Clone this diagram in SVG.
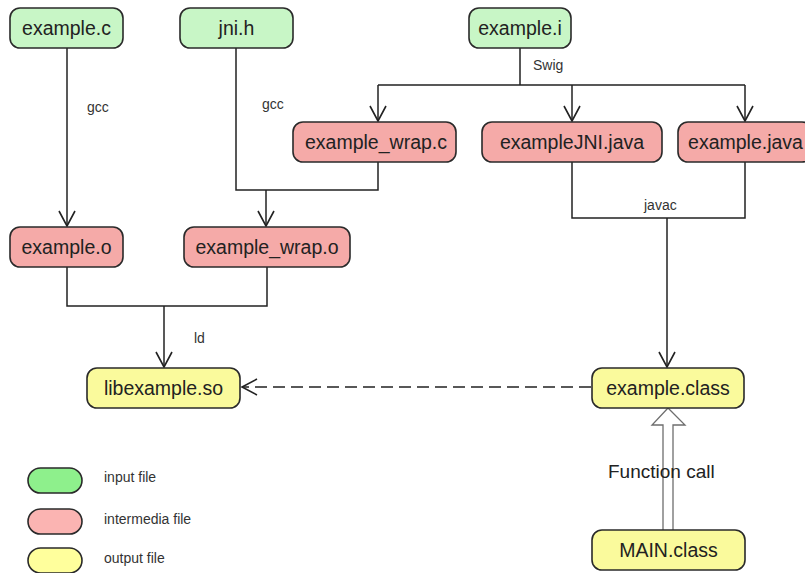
<svg xmlns="http://www.w3.org/2000/svg" width="805" height="573" viewBox="0 0 805 573">
  <style>
    .node rect { stroke: #2a2a2a; stroke-width: 1.6; }
    .input rect { fill: #c8f6c6; }
    .inter rect { fill: #f5aaa8; }
    .output rect { fill: #fafa9c; }
    .node text { font-family: "Liberation Sans", Arial, sans-serif; font-size: 19.5px; fill: #222; text-anchor: middle; }
    .edge { fill: none; stroke: #222; stroke-width: 1.5; }
    .lbl { font-family: "Liberation Sans", Arial, sans-serif; font-size: 14px; fill: #333; }
    .legend text { font-family: "Liberation Sans", Arial, sans-serif; font-size: 14px; fill: #333; }
  </style>
  <defs>
    <marker id="open" markerUnits="userSpaceOnUse" viewBox="-17 -10 19 20" markerWidth="19" markerHeight="20" refX="0" refY="0" orient="auto">
      <path d="M-15,-8 L0,0 L-15,8" fill="none" stroke="#222" stroke-width="1.6"/>
    </marker>
  </defs>
  <rect width="805" height="573" fill="#ffffff"/>

  <!-- connectors -->
  <g id="connectors">
    <!-- gcc: example.c -> example.o -->
    <path class="edge" d="M67 48 V226" marker-end="url(#open)"/>
    <!-- gcc: jni.h + example_wrap.c -> example_wrap.o -->
    <path class="edge" d="M236 48 V190 H378 V162"/>
    <path class="edge" d="M266 190 V226" marker-end="url(#open)"/>
    <!-- swig: example.i -> generated files -->
    <path class="edge" d="M520 48 V85 M378 85 H745"/>
    <path class="edge" d="M378 85 V121" marker-end="url(#open)"/>
    <path class="edge" d="M572 85 V121" marker-end="url(#open)"/>
    <path class="edge" d="M745 85 V121" marker-end="url(#open)"/>
    <!-- javac -->
    <path class="edge" d="M572 162 V218 H745 V162"/>
    <path class="edge" d="M667 218 V367" marker-end="url(#open)"/>
    <!-- ld -->
    <path class="edge" d="M67 267 V306 H267 V267"/>
    <path class="edge" d="M164 306 V367" marker-end="url(#open)"/>
    <!-- load dependency -->
    <path class="edge" d="M591 387 H242" stroke-dasharray="12 6" marker-end="url(#open)"/>
    <!-- function call (hollow arrow) -->
    <path d="M663 530 V425 H652 L668 408 L685 425 H673 V530" fill="#ffffff" stroke="#6e6e6e" stroke-width="1.3"/>
    <text class="lbl" x="87" y="112">gcc</text>
    <text class="lbl" x="262" y="109">gcc</text>
    <text class="lbl" x="533" y="70">Swig</text>
    <text class="lbl" x="644" y="210">javac</text>
    <text class="lbl" x="194" y="343">ld</text>
    <text x="608" y="478" font-family="Liberation Sans, Arial, sans-serif" font-size="19px" fill="#222">Function call</text>
  </g>

  <!-- input files -->
  <g id="example_c" class="node input">
    <rect x="10" y="8" width="113" height="40" rx="10"/>
    <text x="66.5" y="35">example.c</text>
  </g>
  <g id="jni_h" class="node input">
    <rect x="180" y="8" width="113" height="40" rx="10"/>
    <text x="236.5" y="35">jni.h</text>
  </g>
  <g id="example_i" class="node input">
    <rect x="469" y="8" width="102" height="40" rx="10"/>
    <text x="520" y="35">example.i</text>
  </g>

  <!-- intermediate files -->
  <g id="example_wrap_c" class="node inter">
    <rect x="293" y="122" width="163" height="40" rx="10"/>
    <text x="376" y="149">example_wrap.c</text>
  </g>
  <g id="exampleJNI_java" class="node inter">
    <rect x="482" y="122" width="180" height="40" rx="10"/>
    <text x="572" y="149">exampleJNI.java</text>
  </g>
  <g id="example_java" class="node inter">
    <rect x="678" y="122" width="134" height="40" rx="10"/>
    <text x="745.5" y="149">example.java</text>
  </g>
  <g id="example_o" class="node inter">
    <rect x="10" y="227" width="113" height="40" rx="10"/>
    <text x="66.5" y="254">example.o</text>
  </g>
  <g id="example_wrap_o" class="node inter">
    <rect x="184" y="227" width="166" height="40" rx="10"/>
    <text x="267" y="254">example_wrap.o</text>
  </g>

  <!-- output files -->
  <g id="libexample_so" class="node output">
    <rect x="87" y="368" width="153" height="40" rx="10"/>
    <text x="163.5" y="395">libexample.so</text>
  </g>
  <g id="example_class" class="node output">
    <rect x="592" y="368" width="152" height="40" rx="10"/>
    <text x="668" y="395">example.class</text>
  </g>
  <g id="MAIN_class" class="node output">
    <rect x="592" y="530" width="153" height="40" rx="10"/>
    <text x="668.5" y="557">MAIN.class</text>
  </g>

  <!-- legend -->
  <g id="legend" class="legend">
    <rect x="28" y="468" width="54" height="25" rx="12.5" fill="#8ef08c" stroke="#2a2a2a" stroke-width="1.6"/>
    <text x="104" y="482">input file</text>
    <rect x="28" y="509" width="54" height="25" rx="12.5" fill="#fbb4b2" stroke="#2a2a2a" stroke-width="1.6"/>
    <text x="104" y="524">intermedia file</text>
    <rect x="28" y="548" width="54" height="25" rx="12.5" fill="#ffff9c" stroke="#2a2a2a" stroke-width="1.6"/>
    <text x="104" y="563">output file</text>
  </g>
</svg>
